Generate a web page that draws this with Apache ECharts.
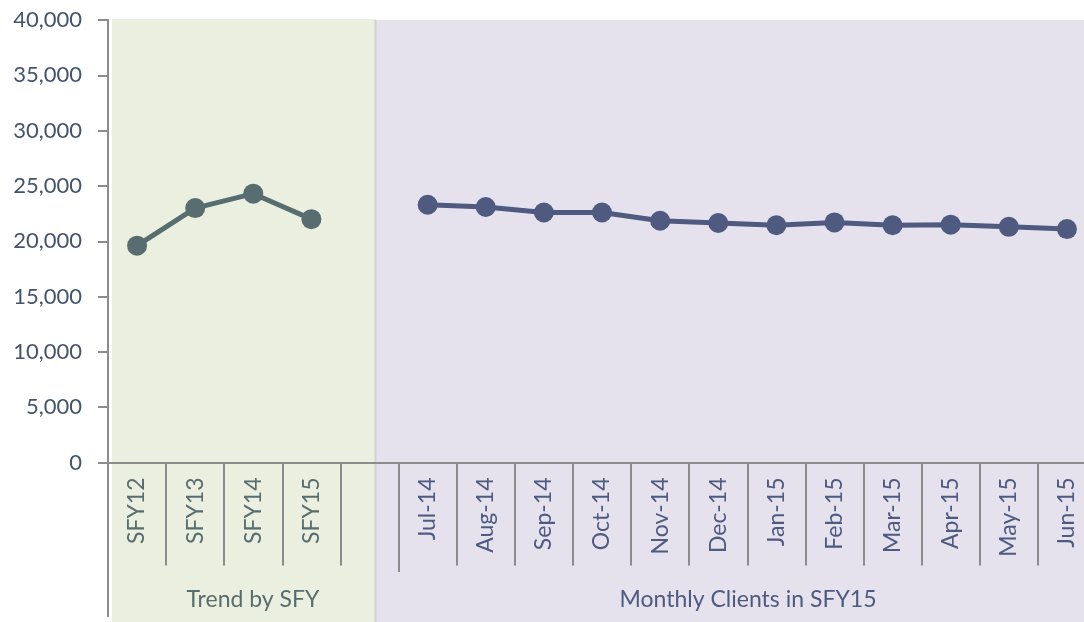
<!DOCTYPE html>
<html>
<head>
<meta charset="utf-8">
<script src="https://cdn.jsdelivr.net/npm/echarts@6/dist/echarts.min.js"></script>
<style>
  html, body { margin: 0; padding: 0; background: #fff; overflow: hidden; }
  body { width: 1084px; height: 622px; }
  /* the plot runs a little past the right edge, like the cropped original */
  #chart { width: 1100px; height: 622px; }
</style>
</head>
<body>
<div id="chart"></div>
<script>
// categories: 4 fiscal years, one empty gap, then the 12 months of SFY15
const yearCats = ['SFY12', 'SFY13', 'SFY14', 'SFY15']
const gapCats = ['']
const monthCats = ['Jul-14', 'Aug-14', 'Sep-14', 'Oct-14', 'Nov-14', 'Dec-14',
  'Jan-15', 'Feb-15', 'Mar-15', 'Apr-15', 'May-15', 'Jun-15']

// values
const yearValues = [19600, 23000, 24300, 22000]
const monthValues = [23300, 23100, 22600, 22600, 21850, 21650,
  21450, 21700, 21450, 21500, 21300, 21100]

const groupLabels = ['Trend by SFY', 'Monthly Clients in SFY15']

const FONT = 'Lato'
const yearColor = '#586d6f'
const monthColor = '#4e5a80'

const categories = [...yearCats, ...gapCats, ...monthCats]
const pad = n => Array(n).fill(null)
const yearSeries = [...yearValues, ...pad(gapCats.length + monthCats.length)]
const monthSeries = [...pad(yearCats.length + gapCats.length), ...monthValues]

const chart = echarts.init(document.getElementById('chart'))

const option = {
  animation: false,
  backgroundColor: 'transparent',
  grid: { left: 108, top: 20, width: 988, height: 442.5 },
  xAxis: {
    type: 'category',
    data: categories,
    boundaryGap: true,
    axisLine: { show: true, lineStyle: { color: '#8c8c8c', width: 2 } },
    axisTick: { show: true, interval: 0, length: 103, lineStyle: { color: '#8c8c8c', width: 2 } },
    axisLabel: {
      interval: 0,
      rotate: 90,
      margin: 15,
      fontFamily: FONT,
      fontSize: 23,
      color: (val, idx) => idx < yearCats.length ? yearColor : monthColor
    },
    splitLine: { show: false }
  },
  yAxis: {
    type: 'value',
    min: 0,
    max: 40000,
    interval: 5000,
    axisLine: { show: true, lineStyle: { color: '#8c8c8c', width: 2 } },
    axisTick: { show: true, length: 10, lineStyle: { color: '#8c8c8c', width: 2 } },
    axisLabel: {
      margin: 26,
      fontFamily: FONT,
      fontSize: 22,
      color: '#44546a',
      formatter: v => v.toLocaleString('en-US')
    },
    splitLine: { show: false }
  },
  series: [
    {
      name: 'SFY',
      type: 'line',
      data: yearSeries,
      symbol: 'circle',
      symbolSize: 20,
      connectNulls: false,
      lineStyle: { color: yearColor, width: 5 },
      itemStyle: { color: yearColor }
    },
    {
      name: 'Monthly',
      type: 'line',
      data: monthSeries,
      symbol: 'circle',
      symbolSize: 20,
      connectNulls: false,
      lineStyle: { color: monthColor, width: 5 },
      itemStyle: { color: monthColor }
    }
  ],
  graphic: [
    // panel backgrounds behind the plot
    { type: 'rect', z: -10, shape: { x: 112, y: 19, width: 264, height: 603 }, style: { fill: '#ebefdf' } },
    { type: 'rect', z: -10, shape: { x: 376, y: 20, width: 724, height: 602 }, style: { fill: '#e5e1ed' } },
    { type: 'line', z: -9, shape: { x1: 375.5, y1: 20, x2: 375.5, y2: 622 }, style: { stroke: '#d3d0d8', lineWidth: 2 } },
    // y axis line continues past the category labels
    { type: 'line', z: 5, shape: { x1: 108, y1: 462, x2: 108, y2: 617 }, style: { stroke: '#8c8c8c', lineWidth: 2 } },
    // group separator tick is a bit longer
    { type: 'line', z: 5, shape: { x1: 399, y1: 462, x2: 399, y2: 572 }, style: { stroke: '#8c8c8c', lineWidth: 2 } },
    {
      type: 'text', z: 5, x: 253, y: 600,
      style: { text: groupLabels[0], font: '23px ' + FONT, fill: yearColor, align: 'center', verticalAlign: 'middle' }
    },
    {
      type: 'text', z: 5, x: 748, y: 600,
      style: { text: groupLabels[1], font: '23px ' + FONT, fill: monthColor, align: 'center', verticalAlign: 'middle' }
    }
  ]
}

chart.setOption(option)
</script>
</body>
</html>
